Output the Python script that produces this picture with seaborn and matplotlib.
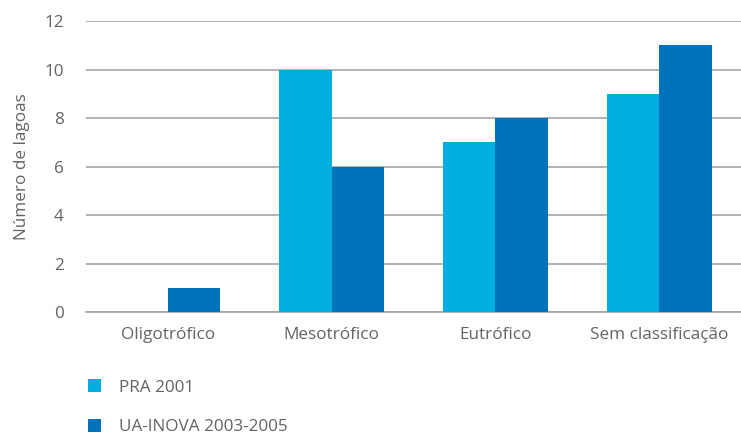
import matplotlib
matplotlib.use("Agg")
import matplotlib.pyplot as plt
import seaborn as sns
import pandas as pd
from matplotlib.patches import Patch

categories = ["Oligotrófico", "Mesotrófico", "Eutrófico", "Sem classificação"]
series_names = ["PRA 2001", "UA-INOVA 2003-2005"]
pra_2001 = [0, 10, 7, 9]
ua_inova = [1, 6, 8, 11]
y_ticks = [0, 2, 4, 6, 8, 10, 12]
colors = ["#00AEE0", "#0071BB"]

df = pd.DataFrame({
    "categoria": categories * 2,
    "serie": [series_names[0]] * 4 + [series_names[1]] * 4,
    "valor": pra_2001 + ua_inova,
})

sns.set_style("white")
plt.rcParams["font.family"] = ["Open Sans", "DejaVu Sans"]
text_color = "#636363"
grid_color = "#A6A6A6"
fs = 12.3

fig = plt.figure(figsize=(7.41, 4.36), dpi=100)
ax = fig.add_axes([0.116, 0.2844, 0.884, 0.6674])

sns.barplot(data=df, x="categoria", y="valor", hue="serie", order=categories,
            hue_order=series_names, palette=colors, width=0.64, saturation=1,
            linewidth=0, ax=ax, legend=False, zorder=3)

ax.set_xlim(-0.5, 3.5)
ax.set_ylim(0, 12)
ax.set_yticks(y_ticks)
ax.yaxis.grid(True, color=grid_color, linewidth=1.2, zorder=0)
ax.set_axisbelow(True)

for s in ["top", "right", "left"]:
    ax.spines[s].set_visible(False)
ax.spines["bottom"].set_color(grid_color)
ax.spines["bottom"].set_linewidth(1.2)

ax.set_xticks(range(len(categories)))
ax.set_xticklabels(categories)
ax.set_xticks([i - 0.5 for i in range(len(categories) + 1)], minor=True)
ax.tick_params(axis="x", which="major", length=0, pad=11, labelsize=fs, labelcolor=text_color)
ax.tick_params(axis="x", which="minor", length=9, width=1.2, color=grid_color)
ax.tick_params(axis="y", length=0, pad=16, labelsize=fs, labelcolor=text_color)

ax.set_xlabel("")
ax.set_ylabel("Número de lagoas", fontsize=fs, color=text_color, labelpad=10)

handles = [Patch(facecolor=c, edgecolor="none") for c in colors]
fig.legend(handles, series_names, loc="lower left", bbox_to_anchor=(0.098, -0.034),
           frameon=False, handlelength=0.75, handleheight=0.75, handletextpad=1.05,
           labelspacing=1.38, prop={"size": fs}, labelcolor=text_color)

fig.savefig("out.png", dpi=100)
